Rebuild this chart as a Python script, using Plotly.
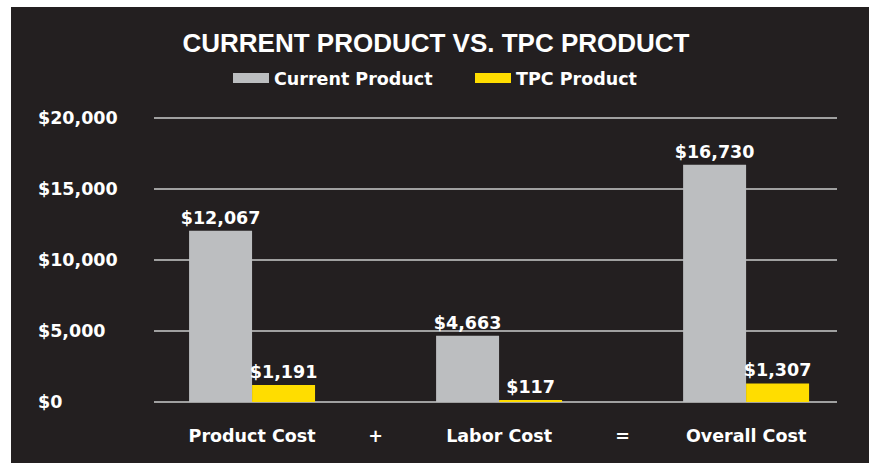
import plotly.graph_objects as go

categories = ["Product Cost", "Labor Cost", "Overall Cost"]
operators = ["+", "="]
current_product = [12067, 4663, 16730]
tpc_product = [1191, 117, 1307]
y_ticks = [0, 5000, 10000, 15000, 20000]
series_names = ["Current Product", "TPC Product"]

GRAY = "#bcbec0"
YELLOW = "#ffdd00"
BG = "#231f20"
GRID = "#a0a0a0"
FONT = "DejaVu Sans"
TFONT = "Liberation Sans"
FS = 17.5

W, H = 871, 463
ML, MR, MT, MB = 154, 34, 114, 61
PW = W - ML - MR
PH = H - MT - MB
YMAX = 20300

def px_x(px):
    return (px - ML) / PW

def px_y(py):
    return (H - MB - py) / PH

x_pos = list(range(len(categories)))
op_pos = [i + 0.5 for i in range(len(operators))]
bw = 0.255
lab_font = dict(family=FONT, size=FS, color="white", weight="bold")

fig = go.Figure()
fig.add_trace(go.Bar(
    x=x_pos, y=current_product, name=series_names[0],
    marker=dict(color=GRAY, line=dict(width=0)),
    offset=-bw, width=bw,
    texttemplate="$%{y:,}", textposition="outside", constraintext="none",
    textfont=lab_font, cliponaxis=False, showlegend=False,
))
fig.add_trace(go.Bar(
    x=x_pos, y=tpc_product, name=series_names[1],
    marker=dict(color=YELLOW, line=dict(width=0)),
    offset=0, width=bw,
    texttemplate="$%{y:,}", textposition="outside", constraintext="none",
    textfont=lab_font, cliponaxis=False, showlegend=False,
))
# legend entries with wide swatches
for name, col in zip(series_names, [GRAY, YELLOW]):
    fig.add_trace(go.Scatter(
        x=[None], y=[None], mode="lines", name=name,
        line=dict(color=col, width=11), showlegend=True,
    ))

annotations = []
for v in y_ticks:
    annotations.append(dict(
        x=px_x(36), xref="paper", y=v, yref="y",
        text=f"${v:,}", showarrow=False, xanchor="left", yanchor="middle",
        font=lab_font,
    ))

fig.update_layout(
    width=W, height=H,
    margin=dict(l=ML, r=MR, t=MT, b=MB),
    paper_bgcolor="white",
    plot_bgcolor="rgba(0,0,0,0)",
    barmode="overlay",
    title=dict(
        text="CURRENT PRODUCT VS. TPC PRODUCT",
        x=436 / W, xref="container", xanchor="center",
        y=1 - 43 / H, yref="container", yanchor="middle",
        font=dict(family=TFONT, size=26, color="white", weight="bold"),
    ),
    legend=dict(
        orientation="h", x=px_x(228), xanchor="left",
        y=px_y(78), yanchor="middle",
        font=lab_font, itemwidth=36, entrywidth=191,
        bgcolor="rgba(0,0,0,0)",
    ),
    xaxis=dict(
        range=[-0.397, 2.368],
        tickvals=x_pos + op_pos,
        ticktext=categories + operators,
        tickfont=lab_font,
        showgrid=False, zeroline=False, showline=False, ticks="",
        ticklabelstandoff=21, fixedrange=True,
    ),
    yaxis=dict(
        range=[0, YMAX], tickvals=y_ticks, showticklabels=False,
        showgrid=True, gridcolor=GRID, gridwidth=1.5,
        zeroline=True, zerolinecolor=GRID, zerolinewidth=1.5,
        showline=False, ticks="",
    ),
    shapes=[dict(
        type="rect", xref="paper", yref="paper",
        x0=px_x(11), x1=px_x(869), y0=px_y(470), y1=px_y(7),
        fillcolor=BG, line=dict(width=0), layer="below",
    )],
    annotations=annotations,
    showlegend=True,
)

fig.write_html(
    "out.html",
    config={"displayModeBar": False},
    post_script="document.body.style.margin='0';document.body.style.overflow='hidden';",
)
